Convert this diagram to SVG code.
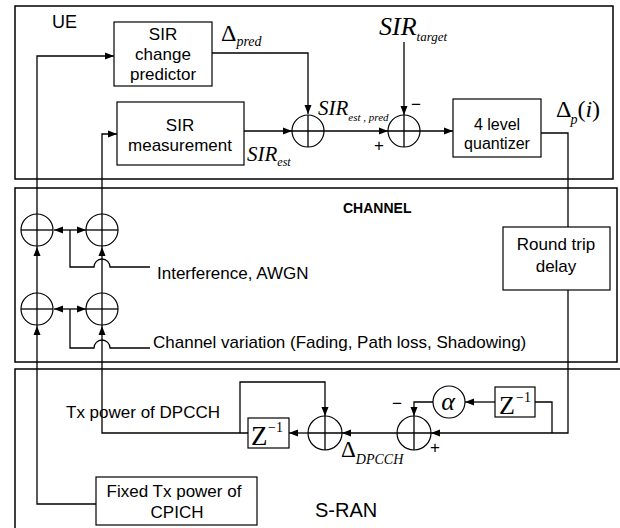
<svg xmlns="http://www.w3.org/2000/svg" width="620" height="528" viewBox="0 0 620 528">
<style>
.panel{fill:none;stroke:#000;stroke-width:1.5}
.box{fill:#fff;stroke:#000;stroke-width:1.2}
.ln{fill:none;stroke:#000;stroke-width:1.3}
.arr{fill:none;stroke:#000;stroke-width:1.3;marker-end:url(#ah)}
.sum circle{fill:none;stroke:#000;stroke-width:1.2}
.sum path{fill:none;stroke:#000;stroke-width:1.3}
.t{font-family:"Liberation Sans",Arial,sans-serif;font-size:17px;fill:#000}
.c{text-anchor:middle}
.m{font-family:"Liberation Serif","Times New Roman",serif;fill:#000}
.i{font-style:italic}
</style>
<defs>
<marker id="ah" markerUnits="userSpaceOnUse" markerWidth="10" markerHeight="8" refX="9" refY="4" orient="auto">
<path d="M0,0.5 L9,4 L0,7.5 Z" fill="#000"/>
</marker>
</defs>
<rect width="620" height="528" fill="#fff"/>

<g id="panel-ue"><rect class="panel" x="15" y="6" width="598" height="173"/><text class="t" x="52" y="28" style="font-size:18px">UE</text></g>
<g id="panel-channel"><rect class="panel" x="15" y="188" width="602" height="174"/><text class="t" x="343" y="213" style="font-size:14px;font-weight:bold">CHANNEL</text></g>
<g id="panel-sran"><rect class="panel" x="15" y="369" width="620" height="180"/><text class="t" x="315" y="517" style="font-size:20px">S-RAN</text></g>

<g id="connectors">
<path class="arr" d="M96,504 H37 V326"/>
<path class="arr" d="M37,326 V247"/>
<path class="arr" d="M37,247 V56 H114"/>
<path class="arr" d="M248,433 H102 V326"/>
<path class="arr" d="M102,326 V247"/>
<path class="arr" d="M102,247 V134 H117"/>
<path class="arr" d="M70,230 H54"/>
<path class="arr" d="M70,230 H86"/>
<path class="ln" d="M70,230 V267 H94 A8,8 0 0 1 110,267 H150"/>
<path class="arr" d="M70,309 H54"/>
<path class="arr" d="M70,309 H86"/>
<path class="ln" d="M70,309 V348 H94 A8,8 0 0 1 110,348 H150"/>
<path class="arr" d="M212,53 H308 V114"/>
<path class="arr" d="M244,131 H292"/>
<path class="arr" d="M324,131 H388"/>
<path class="arr" d="M404,42 V115"/>
<path class="arr" d="M420,131 H453"/>
<path class="ln" d="M541,133 H568 V227"/>
<path class="arr" d="M568,290 V433 H431"/>
<path class="ln" d="M552,433 V402 H535"/>
<path class="arr" d="M495,402 H465"/>
<path class="arr" d="M433,402 H414 V416"/>
<path class="arr" d="M397,433 H342"/>
<path class="arr" d="M308,433 H289"/>
<path class="arr" d="M240,433 V382 H325 V416"/>
</g>

<g id="sir-change-predictor"><rect class="box" x="114" y="22" width="98" height="64"/>
<text class="t c" x="163" y="40">SIR</text><text class="t c" x="163" y="60">change</text><text class="t c" x="163" y="80">predictor</text></g>
<g id="sir-measurement"><rect class="box" x="117" y="102" width="127" height="63"/>
<text class="t c" x="180" y="131">SIR</text><text class="t c" x="180" y="151">measurement</text></g>
<g id="quantizer"><rect class="box" x="453" y="99" width="88" height="58"/>
<text class="t c" x="497" y="130" style="font-size:16px">4 level</text><text class="t c" x="497" y="149" style="font-size:16px">quantizer</text></g>
<g id="round-trip-delay"><rect class="box" x="503" y="227" width="107" height="63"/>
<text class="t c" x="556" y="250">Round trip</text><text class="t c" x="556" y="272">delay</text></g>
<g id="fixed-cpich"><rect class="box" x="96" y="477" width="161" height="48"/>
<text class="t c" x="174" y="497">Fixed Tx power of</text><text class="t c" x="177" y="518">CPICH</text></g>
<g id="z1-right"><rect class="box" x="495" y="387" width="40" height="30"/>
<text class="m" x="499" y="414" style="font-size:26px">Z</text><text class="m" x="516" y="402" style="font-size:14px">−1</text></g>
<g id="z1-left"><rect class="box" x="248" y="418" width="41" height="30"/>
<text class="m" x="251" y="445" style="font-size:27px">Z</text><text class="m" x="268" y="432" style="font-size:14px">−1</text></g>
<g id="alpha" class="sum"><circle cx="449" cy="402" r="16"/><text class="m i c" x="448" y="410" style="font-size:26px">α</text></g>

<g id="sum-ue1" class="sum"><circle cx="308" cy="131" r="16"/><path d="M292,131 H324 M308,115 V147"/></g>
<g id="sum-ue2" class="sum"><circle cx="404" cy="131" r="16"/><path d="M388,131 H420 M404,115 V147"/></g>
<g id="sum-ch1" class="sum"><circle cx="37" cy="230" r="16"/><path d="M21,230 H53"/></g>
<g id="sum-ch2" class="sum"><circle cx="102" cy="230" r="16"/><path d="M86,230 H118"/></g>
<g id="sum-ch3" class="sum"><circle cx="37" cy="309" r="16"/><path d="M21,309 H53"/></g>
<g id="sum-ch4" class="sum"><circle cx="102" cy="309" r="16"/><path d="M86,309 H118"/></g>
<g id="sum-s1" class="sum"><circle cx="414" cy="433" r="17"/><path d="M397,433 H431 M414,416 V450"/></g>
<g id="sum-s2" class="sum"><circle cx="325" cy="433" r="17"/><path d="M308,433 H342 M325,416 V450"/></g>

<g id="labels">
<text class="t" x="157" y="279">Interference, AWGN</text>
<text class="t" x="153" y="348">Channel variation (Fading, Path loss, Shadowing)</text>
<text class="t" x="66" y="418">Tx power of DPCCH</text>
<text class="m" x="221" y="41" style="font-size:24px">Δ<tspan class="i" dy="5" style="font-size:14px">pred</tspan></text>
<text class="m i" x="379" y="35" style="font-size:26px">SIR<tspan dy="6" style="font-size:13px">target</tspan></text>
<text class="m i" x="318" y="115" style="font-size:21px">SIR<tspan dy="6" style="font-size:11px">est , pred</tspan></text>
<text class="m i" x="247" y="161" style="font-size:21px">SIR<tspan dy="5" style="font-size:12px">est</tspan></text>
<text class="m" x="556" y="117" style="font-size:24px">Δ<tspan class="i" dx="-1" dy="7" style="font-size:14px">p</tspan><tspan dy="-7">(<tspan class="i">i</tspan>)</tspan></text>
<text class="m" x="341" y="457" style="font-size:23px">Δ<tspan class="i" dy="7" style="font-size:14px">DPCCH</tspan></text>
<text class="t" x="411" y="110">−</text>
<text class="t" x="374" y="151">+</text>
<text class="t" x="392" y="409">−</text>
<text class="t" x="430" y="453">+</text>
</g>
</svg>
